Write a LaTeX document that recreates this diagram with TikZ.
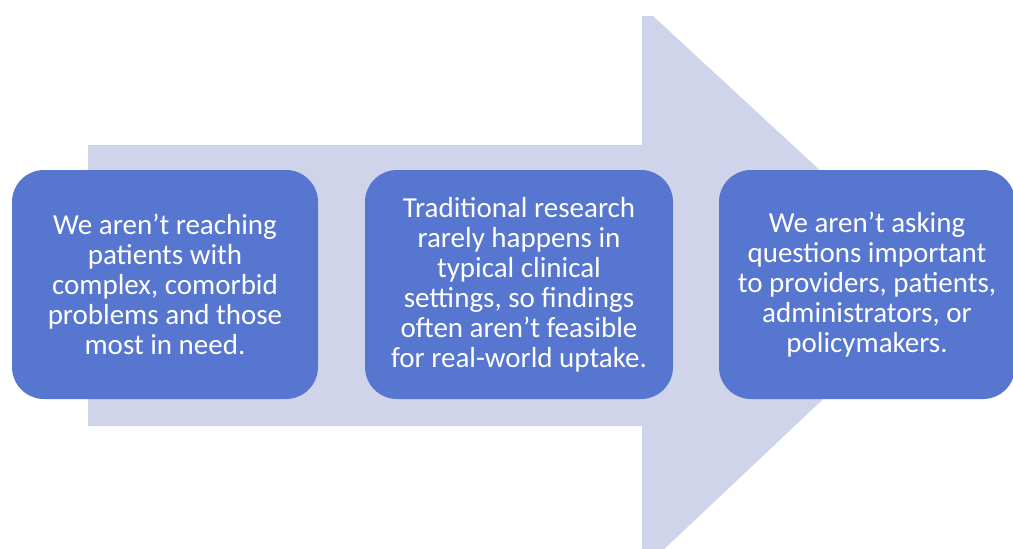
\documentclass[tikz,border=0pt]{standalone}
\usepackage{fontspec}
\setmainfont{Carlito}
\definecolor{boxblue}{RGB}{86,118,207}
\definecolor{lavender}{RGB}{207,212,234}

\begin{document}
\begin{tikzpicture}[x=1pt,y=-1pt,
    problem/.style={fill=boxblue,rounded corners=32pt,text=white,align=center,
      minimum height=229pt,inner sep=0pt,
      font=\fontsize{29}{30}\selectfont}]
    \useasboundingbox (0,0) rectangle (1013,549);
    \fill[lavender] (88,145) -- (642,145) -- (642,16) -- (653,16) --
      (944,285) -- (659,554) -- (642,554) -- (642,426) -- (88,426) -- cycle;
    \node[problem,minimum width=306pt] (reach) at (165,284.5)
      {We aren’t reaching\\patients with\\complex, comorbid\\problems and those\\most in need.};
    \node[problem,minimum width=308pt] (setting) at (519,284.5)
      {Traditional research\\rarely happens in\\typical clinical\\settings, so findings\\often aren’t feasible\\for real-world uptake.};
    \node[problem,minimum width=296pt] (asking) at (867,284.5)
      {We aren’t asking\\questions important\\to providers, patients,\\administrators, or\\policymakers.};
\end{tikzpicture}
\end{document}
